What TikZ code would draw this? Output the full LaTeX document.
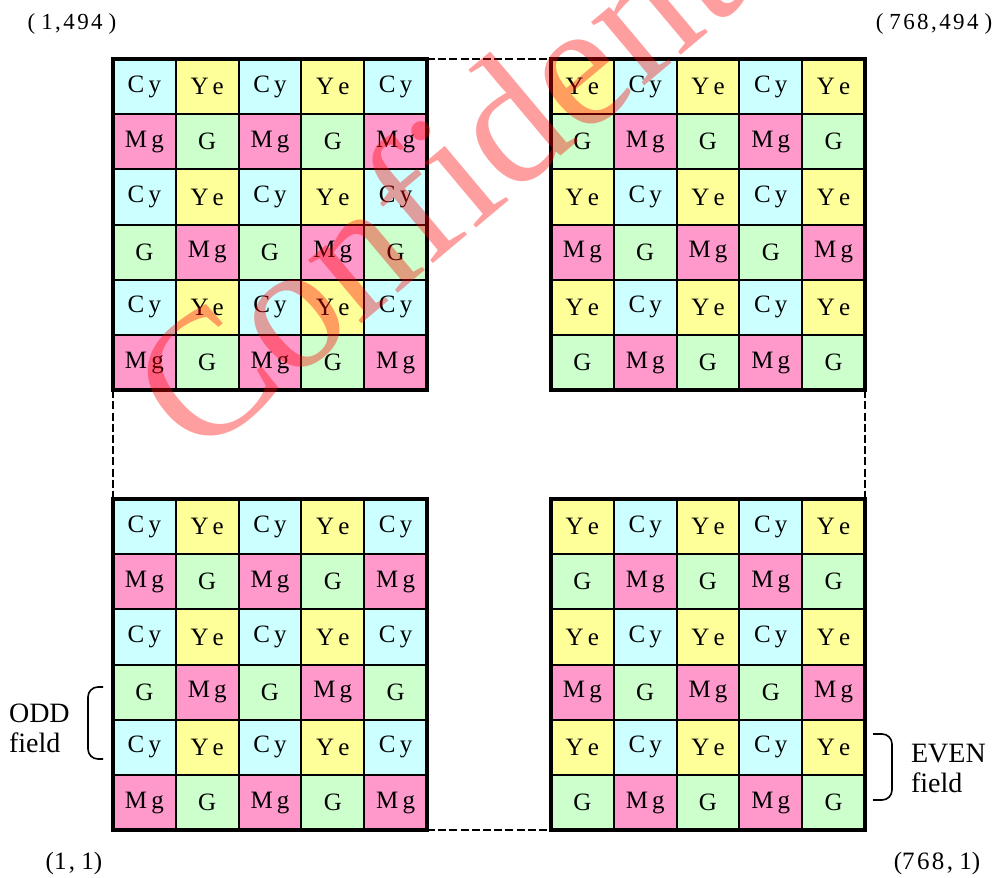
\documentclass[tikz,border=0pt]{standalone}
\usepackage{fontspec}
\setmainfont{Liberation Serif}
\usetikzlibrary{positioning}
\definecolor{cyfill}{HTML}{CCFFFF}
\definecolor{yefill}{HTML}{FFFF99}
\definecolor{mgfill}{HTML}{FF99CC}
\definecolor{gfill}{HTML}{CCFFCC}
\newcommand{\lsp}{\kern1.2pt}

\begin{document}
\begin{tikzpicture}[x=0.5pt, y=-0.5pt,
  cell/.style={rectangle, draw=black, line width=1pt, minimum width=31.4pt,
    minimum height=27.6pt, inner sep=0pt, outer sep=0pt, font=\fontsize{12.5}{14}\selectfont},
  Cy/.style={cell, fill=cyfill, node contents={C\,y}},
  Ye/.style={cell, fill=yefill, node contents={Y\,e}},
  Mg/.style={cell, fill=mgfill, node contents={M\,g}},
  G/.style={cell, fill=gfill, node contents={G}},
  blockframe/.style={line width=1.8pt},
  dashgap/.style={line width=1pt, dash pattern=on 4pt off 1.6pt},
  brk/.style={line width=0.8pt, rounded corners=5pt},
  corner lbl/.style={font=\fontsize{11.5}{13}\selectfont, anchor=base},
  field/.style={font=\fontsize{14}{15}\selectfont, align=left, anchor=west},
  watermark/.style={font=\fontsize{90}{90}\selectfont, text=red, text opacity=0.38,
    rotate=40, anchor=base west}]
\useasboundingbox (0,0) rectangle (996,878);
\foreach \blk/\xo/\yo in {tl/113/59, bl/113/499}
  \foreach \row [count=\r] in {{Cy,Ye,Cy,Ye,Cy},{Mg,G,Mg,G,Mg},{Cy,Ye,Cy,Ye,Cy},
      {G,Mg,G,Mg,G},{Cy,Ye,Cy,Ye,Cy},{Mg,G,Mg,G,Mg}}
    \foreach \lbl [count=\c] in \row
      \node[name=\blk-\r-\c, at={({\xo+(\c-0.5)*62.8},{\yo+(\r-0.5)*55.2})}, \lbl];
\foreach \blk/\xo/\yo in {tr/551/59, br/551/499}
  \foreach \row [count=\r] in {{Ye,Cy,Ye,Cy,Ye},{G,Mg,G,Mg,G},{Ye,Cy,Ye,Cy,Ye},
      {Mg,G,Mg,G,Mg},{Ye,Cy,Ye,Cy,Ye},{G,Mg,G,Mg,G}}
    \foreach \lbl [count=\c] in \row
      \node[name=\blk-\r-\c, at={({\xo+(\c-0.5)*62.8},{\yo+(\r-0.5)*55.2})}, \lbl];
\foreach \blk in {tl,tr,bl,br}
  \draw[blockframe] (\blk-1-1.north west) rectangle (\blk-6-5.south east);
\draw[dashgap] (tl-1-5.north east) -- (tr-1-1.north west);
\draw[dashgap] (bl-6-5.south east) -- (br-6-1.south west);
\draw[dashgap] (tl-6-1.south west) -- (bl-1-1.north west);
\draw[dashgap] (tr-6-5.south east) -- (br-1-5.north east);
\coordinate (oddtop) at (103,687);
\coordinate (eventop) at (873,734);
\draw[brk] (oddtop) -- ++(-15,0) -- ++(0,72) -- ++(15,0);
\draw[brk] (eventop) -- ++(19,0) -- ++(0,66) -- ++(-19,0);
\node[field] (odd) at (2,728) {ODD\\field};
\node[field] (even) at (904,768) {EVEN\\field};
\node[corner lbl] (ul) at (72,29) {(\kern3pt1\lsp,\lsp4\lsp9\lsp4\kern3pt)};
\node[corner lbl] (ur) at (934,29) {(\kern3pt7\lsp6\lsp8\lsp,\lsp4\lsp9\lsp4\kern3pt)};
\node[corner lbl, font=\fontsize{12.5}{14}\selectfont] (ll) at (74,869) {(1\lsp, 1)};
\node[corner lbl, font=\fontsize{12.5}{14}\selectfont] (lr) at (937,869) {(7\lsp6\lsp8\lsp, 1)};
\node[watermark] (wm) at (192,466) {Confidential};
\end{tikzpicture}
\end{document}
